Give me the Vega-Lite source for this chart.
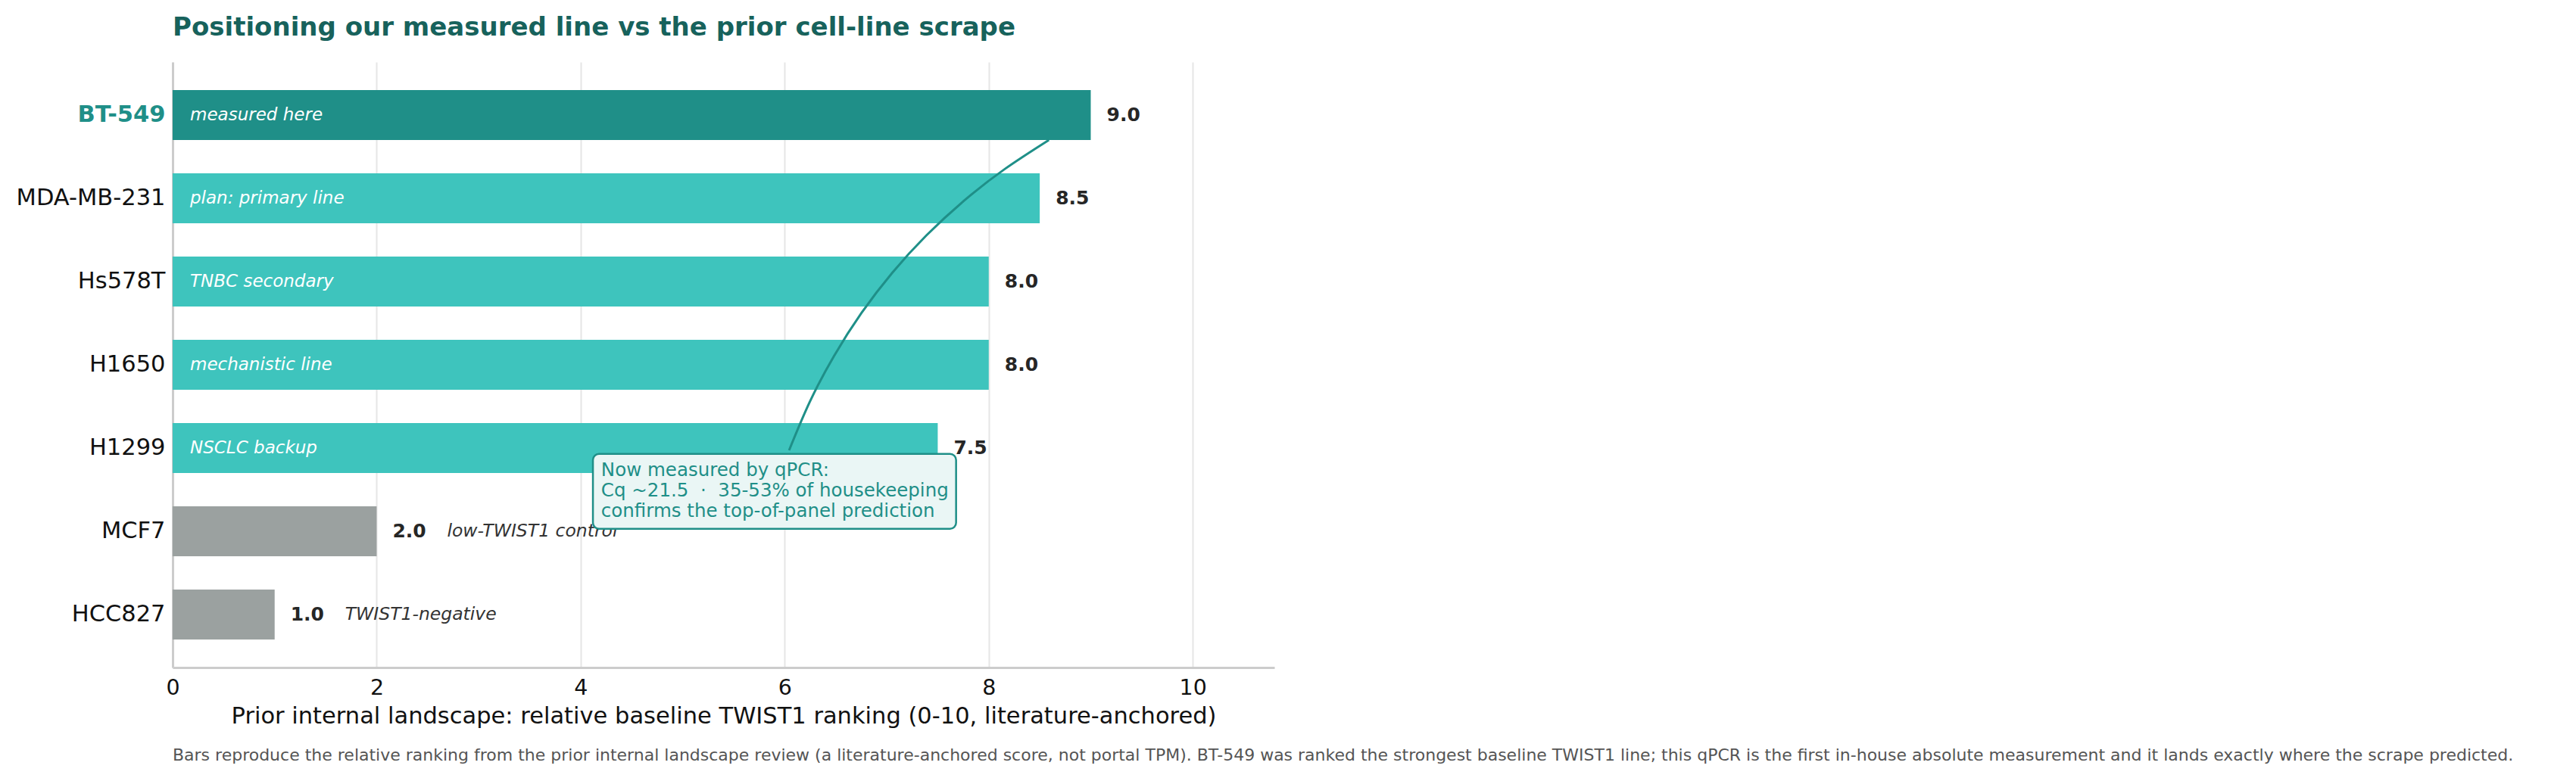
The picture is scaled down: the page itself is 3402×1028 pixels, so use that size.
{
  "$schema": "https://vega.github.io/schema/vega-lite/v6.json",
  "background": "white",
  "padding": {"left": 21, "top": 20, "right": 2, "bottom": 2},
  "autosize": {"type": "pad"},
  "spacing": 25,
  "config": {
    "font": "DejaVu Sans",
    "view": {"stroke": null},
    "axisX": {
      "ticks": false,
      "labelFlush": false,
      "labelPadding": 12,
      "labelFontSize": 28.5,
      "labelColor": "#111111",
      "titleFontSize": 30.5,
      "titleFontWeight": "normal",
      "titleColor": "#111111",
      "titlePadding": 9,
      "domainColor": "#cccccc",
      "domainWidth": 3,
      "grid": true,
      "gridColor": "#e6e6e6",
      "gridWidth": 2
    },
    "axisY": {
      "ticks": false,
      "labelPadding": 10,
      "labelFontSize": 30.5,
      "labelLimit": 0,
      "domainColor": "#cccccc",
      "domainWidth": 3,
      "grid": false
    }
  },
  "datasets": {
    "lines": [
      {"line": "BT-549", "score": 9.0, "role": "measured", "note": "measured here", "inside": true},
      {"line": "MDA-MB-231", "score": 8.5, "role": "candidate", "note": "plan: primary line", "inside": true},
      {"line": "Hs578T", "score": 8.0, "role": "candidate", "note": "TNBC secondary", "inside": true},
      {"line": "H1650", "score": 8.0, "role": "candidate", "note": "mechanistic line", "inside": true},
      {"line": "H1299", "score": 7.5, "role": "candidate", "note": "NSCLC backup", "inside": true},
      {"line": "MCF7", "score": 2.0, "role": "control", "note": "low-TWIST1 control", "inside": false},
      {"line": "HCC827", "score": 1.0, "role": "control", "note": "TWIST1-negative", "inside": false}
    ],
    "arc": [
      {"cx": 6.043, "cy": 4.027},
      {"cx": 6.246, "cy": 3.445},
      {"cx": 6.483, "cy": 2.895},
      {"cx": 6.753, "cy": 2.377},
      {"cx": 7.054, "cy": 1.895},
      {"cx": 7.389, "cy": 1.446},
      {"cx": 7.756, "cy": 1.031},
      {"cx": 8.157, "cy": 0.649},
      {"cx": 8.590, "cy": 0.300}
    ],
    "callout": [
      {"x1": 4.12, "x2": 7.68, "y1": 4.07, "y2": 4.97, "tx": 4.2, "ty": 4.34,
       "msg": "Now measured by qPCR:\nCq ~21.5 \u00a0·\u00a0 35-53% of housekeeping\nconfirms the top-of-panel prediction"}
    ]
  },
  "vconcat": [
    {
      "width": 1455,
      "height": 800,
      "title": {
        "text": "Positioning our measured line vs the prior cell-line scrape",
        "anchor": "start",
        "frame": "group",
        "fontSize": 34,
        "fontWeight": "bold",
        "color": "#17625c",
        "baseline": "alphabetic",
        "offset": 1
      },
      "resolve": {"scale": {"y": "independent"}},
      "layer": [
        {
          "data": {"name": "lines"},
          "encoding": {
            "y": {
              "field": "line",
              "type": "nominal",
              "sort": null,
              "scale": {"paddingInner": 0.4, "paddingOuter": 0.336},
              "axis": {
                "title": null,
                "labelColor": {"expr": "datum.value == 'BT-549' ? '#1f8f88' : '#111111'"},
                "labelFontWeight": {"expr": "datum.value == 'BT-549' ? 'bold' : 'normal'"}
              }
            },
            "x": {
              "field": "score",
              "type": "quantitative",
              "scale": {"domain": [0, 10.8], "nice": false},
              "axis": {"title": "Prior internal landscape: relative baseline TWIST1 ranking (0-10, literature-anchored)", "values": [0, 2, 4, 6, 8, 10], "format": "d"}
            }
          },
          "layer": [
            {
              "mark": {"type": "bar"},
              "encoding": {
                "color": {
                  "field": "role",
                  "type": "nominal",
                  "scale": {"domain": ["measured", "candidate", "control"], "range": ["#1f8f88", "#3ec4bd", "#9ba1a0"]},
                  "legend": null
                }
              }
            },
            {
              "transform": [{"filter": "datum.inside"}],
              "mark": {"type": "text", "align": "left", "baseline": "middle", "dx": 23, "fontSize": 23, "fontStyle": "italic", "color": "white"},
              "encoding": {
                "x": {"datum": 0, "type": "quantitative", "scale": {"domain": [0, 10.8], "nice": false}, "axis": {"title": "Prior internal landscape: relative baseline TWIST1 ranking (0-10, literature-anchored)", "values": [0, 2, 4, 6, 8, 10], "format": "d"}},
                "text": {"field": "note"}
              }
            },
            {
              "mark": {"type": "text", "align": "left", "baseline": "middle", "dx": 21, "fontSize": 25, "fontWeight": "bold", "color": "#262626"},
              "encoding": {
                "text": {"field": "score", "type": "quantitative", "format": ".1f"}
              }
            },
            {
              "transform": [{"filter": "!datum.inside"}],
              "mark": {"type": "text", "align": "left", "baseline": "middle", "dx": 93, "fontSize": 23.5, "fontStyle": "italic", "color": "#333333"},
              "encoding": {
                "text": {"field": "note"}
              }
            }
          ]
        },
        {
          "layer": [
            {
              "data": {"name": "arc"},
              "mark": {"type": "line", "interpolate": "natural", "color": "#1f8f88", "strokeWidth": 3},
              "encoding": {
                "x": {"field": "cx", "type": "quantitative", "scale": {"domain": [0, 10.8], "nice": false}, "axis": {"title": "Prior internal landscape: relative baseline TWIST1 ranking (0-10, literature-anchored)", "values": [0, 2, 4, 6, 8, 10], "format": "d"}},
                "y": {"field": "cy", "type": "quantitative", "scale": {"domain": [-0.6363, 6.6363], "reverse": true, "nice": false, "zero": false}, "axis": null}
              }
            },
            {
              "data": {"name": "callout"},
              "mark": {"type": "rect", "cornerRadius": 8, "fill": "#eaf6f5", "stroke": "#1f8f88", "strokeWidth": 2.5},
              "encoding": {
                "x": {"field": "x1", "type": "quantitative", "scale": {"domain": [0, 10.8], "nice": false}, "axis": {"title": "Prior internal landscape: relative baseline TWIST1 ranking (0-10, literature-anchored)", "values": [0, 2, 4, 6, 8, 10], "format": "d"}},
                "x2": {"field": "x2"},
                "y": {"field": "y1", "type": "quantitative", "scale": {"domain": [-0.6363, 6.6363], "reverse": true, "nice": false, "zero": false}, "axis": null},
                "y2": {"field": "y2"}
              }
            },
            {
              "data": {"name": "callout"},
              "mark": {"type": "text", "align": "left", "baseline": "alphabetic", "lineBreak": "\n", "lineHeight": 27, "fontSize": 24.5, "color": "#1f8f88"},
              "encoding": {
                "x": {"field": "tx", "type": "quantitative", "scale": {"domain": [0, 10.8], "nice": false}, "axis": {"title": "Prior internal landscape: relative baseline TWIST1 ranking (0-10, literature-anchored)", "values": [0, 2, 4, 6, 8, 10], "format": "d"}},
                "y": {"field": "ty", "type": "quantitative", "scale": {"domain": [-0.6363, 6.6363], "reverse": true, "nice": false, "zero": false}, "axis": null},
                "text": {"field": "msg"}
              }
            }
          ]
        }
      ]
    },
    {
      "width": 1455,
      "height": 1,
      "data": {"values": []},
      "mark": "point",
      "title": {
        "text": "Bars reproduce the relative ranking from the prior internal landscape review (a literature-anchored score, not portal TPM). BT-549 was ranked the strongest baseline TWIST1 line; this qPCR is the first in-house absolute measurement and it lands exactly where the scrape predicted.",
        "anchor": "start",
        "frame": "group",
        "fontSize": 22,
        "fontWeight": "normal",
        "color": "#555555",
        "baseline": "alphabetic",
        "offset": 0
      }
    }
  ]
}
